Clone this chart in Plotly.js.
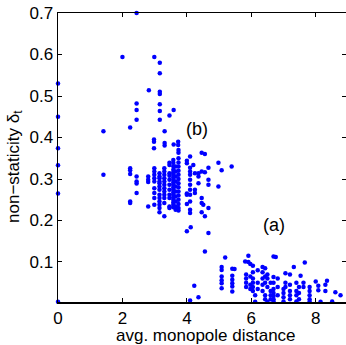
<!DOCTYPE html>
<html>
<head>
<meta charset="utf-8">
<script src="https://cdn.plot.ly/plotly-3.0.1.min.js"></script>
<style>html,body{margin:0;padding:0;background:#fff;}#chart{width:346px;height:345px;}</style>
</head>
<body>
<div id="chart"></div>
<script>
// Points on the y axis (x = 0)
var axisY = [0.53, 0.45, 0.374, 0.333, 0.265, 0.004];

// Upper scattered points of group (b)
var upperX = [2.44, 2.0, 2.99, 3.16, 3.16, 2.82, 3.16, 3.16, 2.44, 2.44, 2.44, 3.16, 3.16, 3.16, 3.46, 3.59, 2.24, 1.41, 3.31, 2.98, 2.98, 2.98, 3.31, 3.31, 3.59, 3.73, 3.73, 3.74, 3.74];
var upperY = [0.70, 0.594, 0.594, 0.58, 0.555, 0.514, 0.51, 0.505, 0.482, 0.466, 0.443, 0.48, 0.464, 0.443, 0.453, 0.466, 0.424, 0.415, 0.415, 0.395, 0.39, 0.374, 0.387, 0.381, 0.383, 0.39, 0.382, 0.37, 0.363];

// Group (b) core: distance columns and their non-staticity values
var bColX = [1.41, 2.24, 2.44, 2.8, 2.99, 3.15, 3.30, 3.46, 3.58, 3.65, 3.74, 4.0, 4.1, 4.12, 4.2, 4.25, 4.36, 4.46, 4.51, 4.56, 4.67, 4.98, 5.08, 5.39];
var bColY = [
  [0.31],
  [0.326, 0.321, 0.312, 0.246, 0.242],
  [0.306, 0.294, 0.289, 0.266],
  [0.306, 0.298, 0.293, 0.234],
  [0.326, 0.318, 0.31, 0.302, 0.294, 0.278, 0.266, 0.254, 0.238],
  [0.314, 0.306, 0.302, 0.294, 0.29, 0.282, 0.274, 0.262, 0.254, 0.246, 0.238, 0.23, 0.22],
  [0.326, 0.318, 0.31, 0.302, 0.294, 0.286, 0.278, 0.27, 0.262, 0.254, 0.242, 0.21],
  [0.339, 0.334, 0.314, 0.308, 0.298, 0.286, 0.274, 0.262, 0.254, 0.234, 0.23],
  [0.346, 0.339, 0.331, 0.322, 0.316, 0.31, 0.304, 0.298, 0.292, 0.286, 0.28, 0.274, 0.268, 0.262, 0.256, 0.25, 0.244, 0.238, 0.232],
  [0.33, 0.318, 0.306, 0.294, 0.282, 0.27, 0.258, 0.246, 0.234, 0.226],
  [0.35, 0.34, 0.33, 0.32, 0.31, 0.3, 0.29, 0.28, 0.27, 0.26, 0.25, 0.24, 0.23, 0.224],
  [0.344, 0.338, 0.265, 0.262, 0.24, 0.174],
  [0.354, 0.327, 0.318, 0.31, 0.298, 0.286, 0.274, 0.262, 0.246, 0.226, 0.218],
  [0.184],
  [0.334],
  [0.314, 0.274, 0.266],
  [0.314, 0.306, 0.29],
  [0.363, 0.318, 0.254, 0.242, 0.22],
  [0.238],
  [0.36, 0.316, 0.21, 0.125],
  [0.327, 0.298, 0.286, 0.23, 0.17],
  [0.339, 0.282],
  [0.321],
  [0.33]
];

// Group (a): distance columns and their non-staticity values
var aColX = [4.1, 4.23, 4.36, 5.08, 5.19, 5.41, 5.48, 5.81, 5.84, 5.91, 5.97, 6.05, 6.12, 6.2, 6.35, 6.43, 6.5, 6.6, 6.69, 6.76, 6.82, 7.0, 7.06, 7.2, 7.32, 7.4, 7.48, 7.53, 7.62, 7.66, 7.81, 8.0, 8.08, 8.15, 8.3, 8.35, 8.51, 8.61, 8.77];
var aColY = [
  [0.007], [0.043], [0.015],
  [0.088, 0.081, 0.065, 0.056, 0.049, 0.037],
  [0.111],
  [0.084, 0.067, 0.057, 0.049, 0.041, 0.029],
  [0.083],
  [0.101],
  [0.07, 0.06, 0.05, 0.04],
  [0.115, 0.1],
  [0.095, 0.065, 0.045, 0.035],
  [0.091, 0.075, 0.06, 0.05, 0.04, 0.03],
  [0.02, 0.004],
  [0.08, 0.05, 0.035],
  [0.088, 0.075, 0.06, 0.045, 0.03],
  [0.085, 0.065, 0.05, 0.02, 0.01],
  [0.07, 0.06, 0.04, 0.004],
  [0.05, 0.03, 0.02, 0.01],
  [0.113, 0.064, 0.05, 0.035, 0.025, 0.018, 0.01, 0.005],
  [0.112],
  [0.06, 0.04, 0.02],
  [0.035, 0.025, 0.015, 0.005],
  [0.073, 0.05, 0.04],
  [0.07, 0.045, 0.03, 0.02, 0.01],
  [0.088],
  [0.05, 0.03, 0.02, 0.005],
  [0.04, 0.025, 0.01],
  [0.067],
  [0.05, 0.04],
  [0.099],
  [0.04, 0.03, 0.02, 0.01, 0.004],
  [0.053],
  [0.043, 0.032],
  [0.004],
  [0.045, 0.03],
  [0.055],
  [0.005],
  [0.027],
  [0.02]
];

var xTicks = [0, 2, 4, 6, 8];
var yTicks = [0.1, 0.2, 0.3, 0.4, 0.5, 0.6, 0.7];
var xTitle = 'avg. monopole distance';
var yTitle = 'non\u2212staticity \u03b4<sub>t</sub>';
var labels = [{text: '(b)', x: 4.3, y: 0.42}, {text: '(a)', x: 6.72, y: 0.19}];

function flatten(colX, colY) {
  var xs = [], ys = [];
  for (var i = 0; i < colX.length; i++) {
    for (var j = 0; j < colY[i].length; j++) { xs.push(colX[i]); ys.push(colY[i][j]); }
  }
  return {x: xs, y: ys};
}

var allX = [], allY = [];
axisY.forEach(function (v) { allX.push(0); allY.push(v); });
upperX.forEach(function (v, i) { allX.push(v); allY.push(upperY[i]); });
[flatten(bColX, bColY), flatten(aColX, aColY)].forEach(function (g) {
  allX = allX.concat(g.x); allY = allY.concat(g.y);
});

var font = 'Liberation Sans, Arial, Helvetica, sans-serif';

var trace = {
  x: allX, y: allY, type: 'scatter', mode: 'markers',
  marker: {color: '#0000ff', size: 4.5, line: {width: 0}},
  cliponaxis: false, hoverinfo: 'none'
};

var axisCommon = {
  showgrid: false, zeroline: false, showline: true, mirror: 'ticks',
  linecolor: '#000', linewidth: 1.5, ticks: 'inside', ticklen: 4, tickwidth: 1, tickcolor: '#000',
  tickfont: {family: font, size: 17, color: '#000'}, automargin: false
};

var annots = labels.map(function (l) {
  return {text: l.text, x: l.x, y: l.y, xref: 'x', yref: 'y', showarrow: false,
    font: {family: font, size: 18, color: '#000'}};
});
annots.push({text: xTitle, xref: 'paper', yref: 'paper', x: 0.514, y: -0.115,
  xanchor: 'center', yanchor: 'middle', showarrow: false,
  font: {family: font, size: 17, color: '#000'}});
annots.push({text: yTitle, xref: 'paper', yref: 'paper', x: -0.15, y: 0.47,
  xanchor: 'center', yanchor: 'middle', textangle: -90, showarrow: false,
  font: {family: font, size: 17, color: '#000'}});

var layout = {
  width: 346, height: 345,
  margin: {l: 58, r: 0, t: 13, b: 43, pad: 0},
  paper_bgcolor: '#fff', plot_bgcolor: '#fff', showlegend: false,
  xaxis: Object.assign({}, axisCommon, {
    range: [0, 8.94], tickvals: xTicks, ticktext: xTicks.map(String)
  }),
  yaxis: Object.assign({}, axisCommon, {
    range: [0.0036, 0.7], tickvals: yTicks, ticktext: yTicks.map(function (v) { return v.toFixed(1); })
  }),
  annotations: annots
};

Plotly.newPlot('chart', [trace], layout, {displayModeBar: false, staticPlot: true});
</script>
</body>
</html>
